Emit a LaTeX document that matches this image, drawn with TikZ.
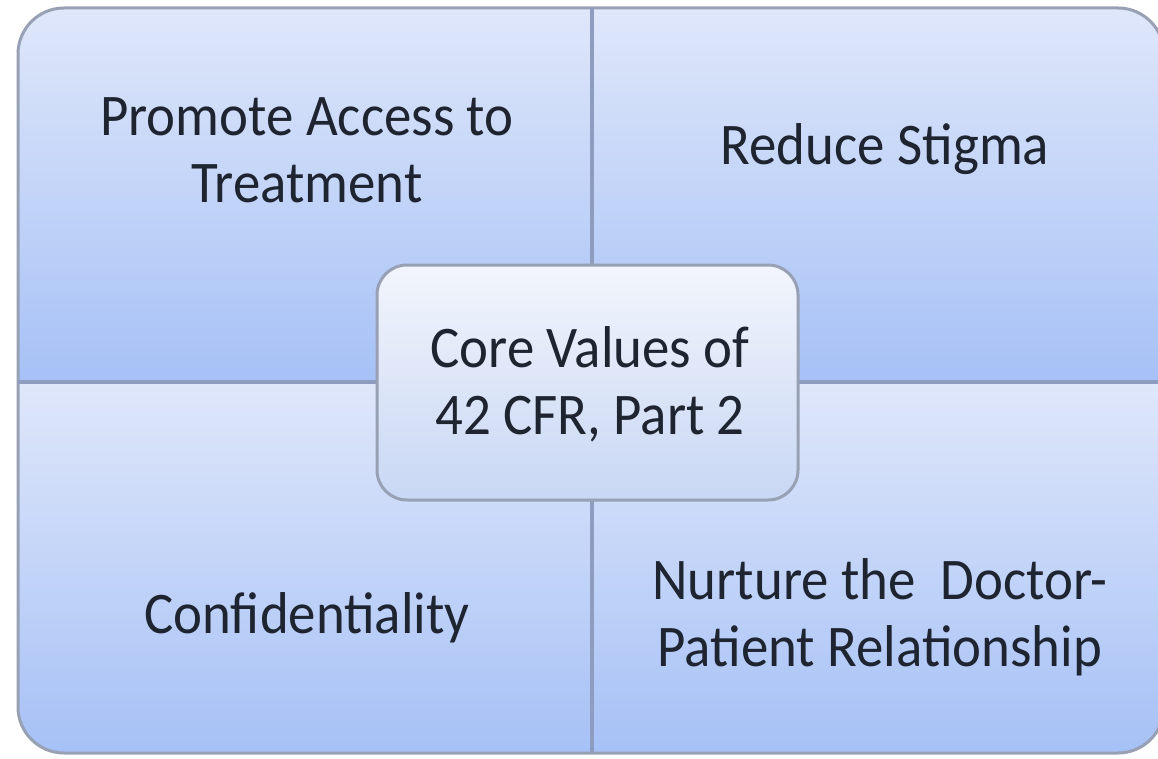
\documentclass[tikz,border=0pt]{standalone}
\usepackage{fontspec}
\newfontfamily\qfont[FakeStretch=0.93]{Carlito}
\definecolor{qtop}{HTML}{DFE7FA}
\definecolor{qbot}{HTML}{A6C1F6}
\definecolor{edge}{HTML}{98A0B4}
\definecolor{divline}{HTML}{8E9CC0}
\definecolor{ctop}{HTML}{F2F5FC}
\definecolor{cbot}{HTML}{C8D7F4}
\definecolor{txt}{HTML}{1E2430}
\begin{document}
\begin{tikzpicture}[x=1pt,y=-1pt,
  quad/.style={top color=qtop,bottom color=qbot,draw=none},
  label/.style={font=\qfont\fontsize{59}{67}\selectfont,text=txt,align=center,inner sep=0pt},
  divider/.style={draw=divline,line width=3.5pt}]
\useasboundingbox (0,0) rectangle (1158,759);
\fill[white] (0,0) rectangle (1158,759);
\begin{scope}
  \clip[rounded corners=46pt] (18,8) rectangle (1164,753);
  \path[quad] (18,8) rectangle (592,382);
  \path[quad] (592,8) rectangle (1164,382);
  \path[quad] (18,382) rectangle (592,753);
  \path[quad] (592,382) rectangle (1164,753);
\end{scope}
\draw[edge,line width=3pt,rounded corners=46pt] (18,8) rectangle (1164,753);
\coordinate (vt) at (592,8);
\coordinate (vb) at (592,753);
\coordinate (hl) at (18,382);
\coordinate (hr) at (1164,382);
\draw[divider] (vt) -- (vb);
\draw[divider] (hl) -- (hr);
\node[draw=edge,line width=3pt,rounded corners=30pt,top color=ctop,bottom color=cbot,
  minimum width=421pt,minimum height=235pt,inner sep=0pt] (core) at (587.5,382.5) {};
\node[label] (tl) at (307,150) {Promote Access to\\Treatment};
\node[label,anchor=base] (tr) at (885,165) {Reduce Stigma};
\node[label,anchor=base] (bl) at (307,633) {Confidentiality};
\node[label] (br) at (880,617) {Nurture the\ \ Doctor-\\Patient Relationship};
\node[label] (cv) at (590,384) {Core Values of\\42 CFR, Part 2};
\end{tikzpicture}
\end{document}
